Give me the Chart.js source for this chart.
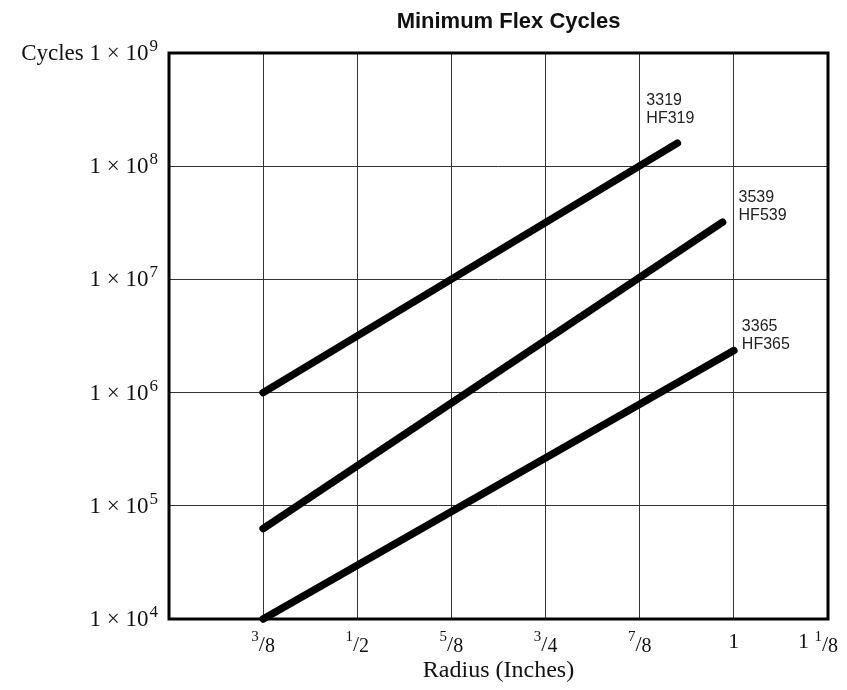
<!DOCTYPE html>
<html>
<head>
<meta charset="utf-8">
<script src="https://cdn.jsdelivr.net/npm/chart.js@4/dist/chart.umd.min.js"></script>
<style>
body { margin: 0; background: #fff; }
#wrap { width: 847px; height: 690px; position: relative; }
</style>
</head>
<body>
<div id="wrap"><canvas id="flexChart"></canvas></div>
<script>
// === Veriler ===
const seriesNames = ['3319', '3539', '3365'];
const seriesLabels = [['3319', 'HF319'], ['3539', 'HF539'], ['3365', 'HF365']];
const radius3319 = [0.375, 0.925];
const cycles3319 = [1e6, 1.6e8];
const radius3539 = [0.375, 0.985];
const cycles3539 = [6.3e4, 3.2e7];
const radius3365 = [0.375, 1.0];
const cycles3365 = [1e4, 2.35e6];

const xTickValues = [0.25, 0.375, 0.5, 0.625, 0.75, 0.875, 1.0, 1.125];
const xTickLabels = ['', '3/8', '1/2', '5/8', '3/4', '7/8', '1', '1 1/8'];
const yTickValues = [1e4, 1e5, 1e6, 1e7, 1e8, 1e9];

// etiketlerin çizgi ucuna göre kayması (px)
const labelOffsets = [[-31, -38], [16, -20], [8, -20]];

const serif = '"Liberation Serif", "Times New Roman", serif';
const sans = '"Liberation Sans", Arial, sans-serif';

function toPoints(xs, ys) {
    return xs.map((x, i) => ({ x: x, y: ys[i] }));
}

function makeLine(label, xs, ys) {
    return {
        label: label,
        data: toPoints(xs, ys),
        borderColor: '#000',
        borderWidth: 7.5,
        borderCapStyle: 'round',
        pointRadius: 0,
        pointHoverRadius: 0,
        clip: false,
        tension: 0
    };
}

// başlık, çerçeve, tick yazıları
const drawExtras = {
    id: 'drawExtras',
    beforeDatasetsDraw(chart) {
        const { ctx, chartArea: a } = chart;
        ctx.save();
        ctx.strokeStyle = '#000';
        ctx.lineWidth = 3;
        ctx.strokeRect(a.left, a.top, a.right - a.left, a.bottom - a.top);
        ctx.restore();
    },
    afterDraw(chart) {
        const { ctx, chartArea: a } = chart;
        const xs = chart.scales.x;
        const ys = chart.scales.y;
        ctx.save();
        ctx.fillStyle = '#111';

        // başlık
        ctx.font = 'bold 22px ' + sans;
        ctx.textAlign = 'center';
        ctx.textBaseline = 'alphabetic';
        ctx.fillText('Minimum Flex Cycles', (a.left + a.right) / 2 + 10, 28);

        // y ticks: 1 × 10^n
        ctx.textAlign = 'left';
        yTickValues.forEach(v => {
            const py = ys.getPixelForValue(v);
            const exp = String(Math.round(Math.log10(v)));
            const main = (v === 1e9 ? 'Cycles ' : '') + '1 \u00d7 10';
            ctx.font = '23px ' + serif;
            const wMain = ctx.measureText(main).width;
            ctx.font = '17px ' + serif;
            const wSup = ctx.measureText(exp).width;
            const x0 = a.left - 12 - wMain - wSup;
            ctx.font = '23px ' + serif;
            ctx.fillText(main, x0, py + 7);
            ctx.font = '17px ' + serif;
            ctx.fillText(exp, x0 + wMain + 1, py - 2);
        });

        // x ticks: kesirler
        xTickValues.forEach((v, i) => {
            const lab = xTickLabels[i];
            if (!lab) return;
            const px = xs.getPixelForValue(v);
            const parts = lab.split(' ');
            let whole = '', frac = '';
            if (lab.indexOf('/') >= 0) {
                frac = parts[parts.length - 1];
                if (parts.length > 1) whole = parts[0] + ' ';
            } else {
                whole = lab;
            }
            const base = 648;
            ctx.font = '22px ' + serif;
            const wWhole = ctx.measureText(whole).width;
            let num = '', den = '', wNum = 0, wSl = 0, wDen = 0;
            if (frac) {
                [num, den] = frac.split('/');
                ctx.font = '15px ' + serif;
                wNum = ctx.measureText(num).width;
                ctx.font = '22px ' + serif;
                wSl = ctx.measureText('/').width;
                ctx.font = '20px ' + serif;
                wDen = ctx.measureText(den).width;
            }
            const total = wWhole + wNum + wSl + wDen;
            let x0 = px - total / 2;
            if (x0 + total > chart.width - 9) x0 = chart.width - 9 - total;
            ctx.font = '22px ' + serif;
            ctx.fillText(whole, x0, base);
            if (frac) {
                let cx = x0 + wWhole;
                ctx.font = '15px ' + serif;
                ctx.fillText(num, cx, base - 7);
                cx += wNum;
                ctx.font = '22px ' + serif;
                ctx.fillText('/', cx, base + 3);
                cx += wSl;
                ctx.font = '20px ' + serif;
                ctx.fillText(den, cx, base + 4);
            }
        });

        // seri etiketleri
        ctx.font = '16px ' + sans;
        ctx.fillStyle = '#222';
        chart.data.datasets.forEach((ds, i) => {
            const last = ds.data[ds.data.length - 1];
            const px = xs.getPixelForValue(last.x) + labelOffsets[i][0];
            const py = ys.getPixelForValue(last.y) + labelOffsets[i][1];
            ctx.fillText(seriesLabels[i][0], px, py);
            ctx.fillText(seriesLabels[i][1], px, py + 18);
        });
        ctx.restore();
    }
};

const ctx = document.getElementById('flexChart').getContext('2d');
const flexChart = new Chart(ctx, {
    type: 'line',
    data: {
        datasets: [
            makeLine(seriesNames[0], radius3319, cycles3319),
            makeLine(seriesNames[1], radius3539, cycles3539),
            makeLine(seriesNames[2], radius3365, cycles3365)
        ]
    },
    options: {
        responsive: true,
        maintainAspectRatio: false,
        animation: false,
        layout: { padding: { top: 53, right: 19, bottom: 0, left: 0 } },
        plugins: {
            legend: { display: false },
            tooltip: { enabled: false },
            title: { display: false }
        },
        scales: {
            x: {
                type: 'linear',
                min: 0.25,
                max: 1.125,
                afterBuildTicks: (scale) => {
                    scale.ticks = xTickValues.map(v => ({ value: v }));
                },
                afterFit: (scale) => { scale.height = 71; },
                ticks: { display: false },
                grid: { color: '#333', lineWidth: 1, drawTicks: false },
                border: { display: false },
                title: {
                    display: true,
                    text: 'Radius (Inches)',
                    color: '#111',
                    font: { family: serif, size: 24 },
                    padding: { top: 0, bottom: 5 }
                }
            },
            y: {
                type: 'logarithmic',
                min: 1e4,
                max: 1e9,
                afterBuildTicks: (scale) => {
                    scale.ticks = yTickValues.map(v => ({ value: v }));
                },
                afterFit: (scale) => { scale.width = 169; },
                ticks: { display: false },
                grid: { color: '#333', lineWidth: 1, drawTicks: false },
                border: { display: false }
            }
        }
    },
    plugins: [drawExtras]
});
</script>
</body>
</html>
